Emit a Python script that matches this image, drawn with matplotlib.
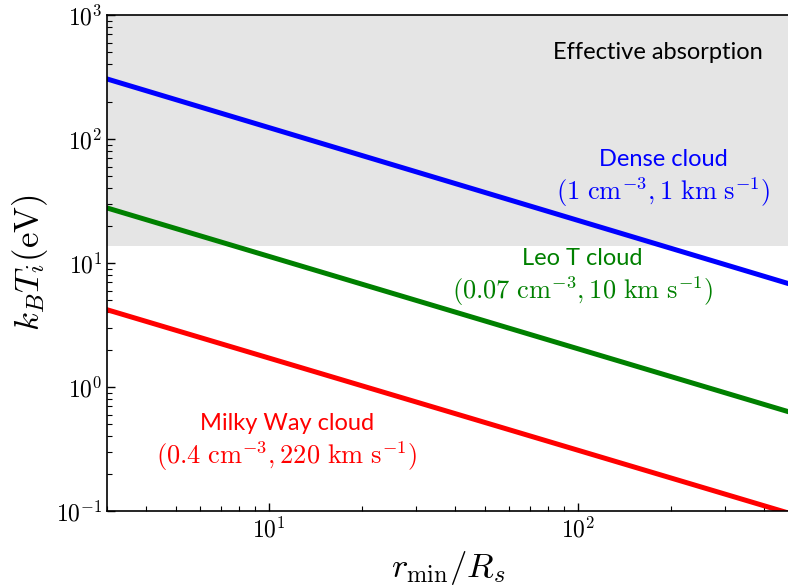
import numpy as np
import matplotlib
matplotlib.use("Agg")
import matplotlib.pyplot as plt
from matplotlib.ticker import FuncFormatter, LogLocator

plt.rcParams['mathtext.fontset'] = 'cm'
plt.rcParams['font.family'] = ['Lato', 'DejaVu Sans']

# endpoints of the power-law ion temperature curves, r_min/R_s vs k_B T_i (eV)
r_min = [3.0, 482.0]
t_dense = [305.0, 6.8]
t_leo = [27.8, 0.63]
t_milky = [4.2, 0.096]

# hydrogen ionisation threshold: above this absorption is effective
e_ion = 13.6
y_top = 1e3

fig = plt.figure(figsize=(7.88, 5.88), dpi=100)
ax = fig.add_axes([107 / 788, 1 - 511 / 588, 682 / 788, 496 / 588])

ax.axhspan(e_ion, y_top, color='#e5e5e5', lw=0, zorder=0)
ax.plot(r_min, t_dense, color='blue', lw=3.6)
ax.plot(r_min, t_leo, color='green', lw=3.6)
ax.plot(r_min, t_milky, color='red', lw=3.6)

ax.set_xscale('log')
ax.set_yscale('log')
ax.set_xlim(r_min[0], r_min[1])
ax.set_ylim(0.1, y_top)

fmt = FuncFormatter(lambda v, p: r'$10^{%d}$' % round(np.log10(v)))
ax.xaxis.set_major_formatter(fmt)
ax.yaxis.set_major_formatter(fmt)
ax.yaxis.set_major_locator(LogLocator(base=10, numticks=10))
ax.tick_params(which='both', direction='in', top=False, right=False, labelsize=17)
ax.tick_params(which='major', length=6, width=1)
ax.tick_params(which='minor', length=3.5, width=0.8)
for s in ax.spines.values():
    s.set_linewidth(1.2)

ax.set_xlabel(r'$r_{\rm min}/R_s$', fontsize=25, labelpad=6)
ax.set_ylabel(r'$k_B T_i (\rm eV)$', fontsize=25, labelpad=4)

ts = 17
ms = 19
ax.text(0.808, 0.925, 'Effective absorption', transform=ax.transAxes,
        ha='center', va='center', fontsize=ts, color='black')
ax.text(0.816, 0.708, 'Dense cloud', transform=ax.transAxes,
        ha='center', va='center', fontsize=ts, color='blue')
ax.text(0.816, 0.643, r'$(1\ {\rm cm}^{-3}, 1\ {\rm km\ s}^{-1})$', transform=ax.transAxes,
        ha='center', va='center', fontsize=ms, color='blue')
ax.text(0.697, 0.51, 'Leo T cloud', transform=ax.transAxes,
        ha='center', va='center', fontsize=ts, color='green')
ax.text(0.697, 0.443, r'$(0.07\ {\rm cm}^{-3}, 10\ {\rm km\ s}^{-1})$', transform=ax.transAxes,
        ha='center', va='center', fontsize=ms, color='green')
ax.text(0.264, 0.177, 'Milky Way cloud', transform=ax.transAxes,
        ha='center', va='center', fontsize=ts, color='red')
ax.text(0.264, 0.11, r'$(0.4\ {\rm cm}^{-3}, 220\ {\rm km\ s}^{-1})$', transform=ax.transAxes,
        ha='center', va='center', fontsize=ms, color='red')

fig.savefig('out.png', dpi=100)
